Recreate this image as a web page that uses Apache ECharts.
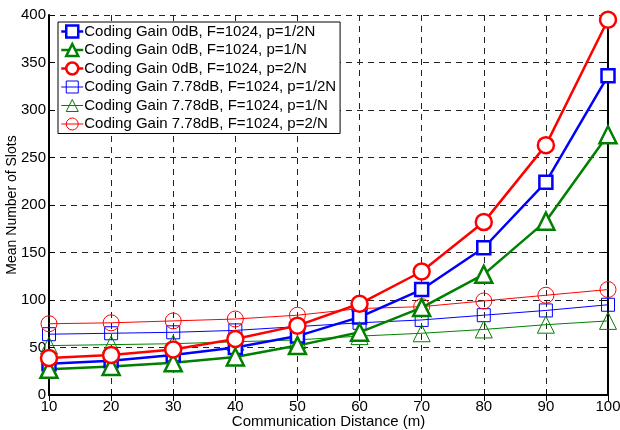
<!DOCTYPE html>
<html>
<head>
<meta charset="utf-8">
<title>Mean Number of Slots</title>
<script src="https://cdn.jsdelivr.net/npm/echarts@6/dist/echarts.min.js"></script>
<style>
html, body { margin: 0; padding: 0; background: #fff; }
#main { width: 620px; height: 430px; }
</style>
</head>
<body>
<div id="main"></div>
<script>
var distance = [10, 20, 30, 40, 50, 60, 70, 80, 90, 100];

// coding gain 0dB
var g0_half = [33, 36, 42, 50, 62, 82, 111, 155, 224, 336];
var g0_one = [27, 30, 34, 40, 52, 66, 92, 127, 183, 274];
var g0_two = [39, 42, 48, 59, 73, 96, 130, 182, 263, 395];
// coding gain 7.78dB
var g7_half = [64, 65, 66, 68, 72, 76, 79, 84, 89, 95];
var g7_one = [52, 53, 54, 56, 58, 62, 65, 69, 74, 78];
var g7_two = [75, 76, 78, 80, 84, 91, 93, 99, 105, 111];

var names = [
    'Coding Gain 0dB, F=1024, p=1/2N',
    'Coding Gain 0dB, F=1024, p=1/N',
    'Coding Gain 0dB, F=1024, p=2/N',
    'Coding Gain 7.78dB, F=1024, p=1/2N',
    'Coding Gain 7.78dB, F=1024, p=1/N',
    'Coding Gain 7.78dB, F=1024, p=2/N'
];

var font = 'Liberation Sans, Arial, Helvetica, sans-serif';
var BLUE = '#0000ff', GREEN = '#008000', RED = '#ff0000';

function pairs(vals) {
    return distance.map(function (d, i) { return [d, vals[i]]; });
}

function thick(name, vals, color, symbol, size) {
    return {
        name: name, type: 'line', data: pairs(vals),
        symbol: symbol, symbolSize: size,
        lineStyle: { color: color, width: 2.5 },
        itemStyle: { color: '#fff', borderColor: color, borderWidth: 2.5 },
        z: 3
    };
}
function thin(name, vals, color, symbol, size) {
    return {
        name: name, type: 'line', data: pairs(vals),
        symbol: symbol, symbolSize: size,
        lineStyle: { color: color, width: 1 },
        itemStyle: { color: 'rgba(255,255,255,0)', borderColor: color, borderWidth: 1 },
        z: 2
    };
}

var legendData = names.map(function (n, i) {
    var w = i < 3 ? 2.5 : 1;
    return { name: n, lineStyle: { width: w }, itemStyle: { borderWidth: w } };
});

var splitLine = { show: true, lineStyle: { color: '#222', type: [6, 5], width: 1 } };
var axisLine = { show: true, lineStyle: { color: '#000', width: 2 } };
var tick = { show: true, inside: true, length: 6, lineStyle: { color: '#000', width: 1 } };

var chart = echarts.init(document.getElementById('main'));
chart.setOption({
    animation: false,
    textStyle: { fontFamily: font },
    grid: { left: 49, right: 12, top: 15, bottom: 35, outerBoundsMode: 'none', containLabel: false },
    legend: {
        orient: 'vertical', left: 58, top: 22,
        data: legendData,
        backgroundColor: '#fff',
        borderColor: '#000', borderWidth: 1,
        padding: [2, 4, 2, 2],
        itemGap: 3.5, itemWidth: 22, itemHeight: 15,
        textStyle: { fontSize: 15, color: '#000', fontFamily: font, padding: [0, 0, 0, -4] }
    },
    xAxis: [{
        type: 'value', min: 10, max: 100, interval: 10,
        name: 'Communication Distance (m)', nameLocation: 'middle', nameGap: 19,
        nameMoveOverlap: false,
        nameTextStyle: { fontSize: 15, color: '#000' },
        axisLine: axisLine, axisTick: tick, splitLine: splitLine,
        axisLabel: { fontSize: 15, color: '#000', margin: 4 }
    }, {
        type: 'value', min: 10, max: 100, interval: 10, position: 'top',
        axisLine: axisLine, axisTick: tick, splitLine: { show: false },
        axisLabel: { show: false }
    }],
    yAxis: [{
        type: 'value', min: 0, max: 400, interval: 50,
        name: 'Mean Number of Slots', nameLocation: 'middle', nameGap: 30,
        nameMoveOverlap: false,
        nameTextStyle: { fontSize: 14, color: '#000' },
        axisLine: axisLine, axisTick: tick, splitLine: splitLine,
        axisLabel: { fontSize: 15, color: '#000', margin: 3 }
    }, {
        type: 'value', min: 0, max: 400, interval: 50, position: 'right',
        axisLine: axisLine, axisTick: tick, splitLine: { show: false },
        axisLabel: { show: false }
    }],
    series: [
        thick(names[0], g0_half, BLUE, 'rect', 13),
        thick(names[1], g0_one, GREEN, 'triangle', 17),
        thick(names[2], g0_two, RED, 'circle', 16),
        thin(names[3], g7_half, BLUE, 'rect', 13),
        thin(names[4], g7_one, GREEN, 'triangle', 17),
        thin(names[5], g7_two, RED, 'circle', 16)
    ]
});
</script>
</body>
</html>
